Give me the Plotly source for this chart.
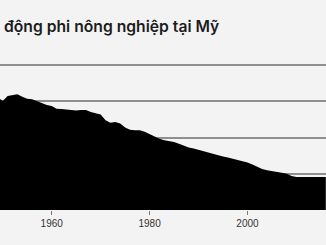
import plotly.graph_objects as go

years = list(range(1949, 2017))
values = [
    31.1, 30.1, 31.5, 31.7, 32.0, 31.3, 30.7, 30.6, 30.1, 29.4,  # 1949-1958
    29.0, 28.7, 28.0, 27.9, 27.8, 27.5, 27.5, 27.6, 27.6, 27.1,  # 1959-1968
    26.8, 26.35, 24.8, 24.1, 24.3, 23.9, 22.8, 22.2, 22.05, 22.05,  # 1969-1978
    21.6, 21.0, 20.25, 19.7, 19.3, 19.05, 18.8, 18.3, 17.75, 17.3,  # 1979-1988
    16.98, 16.6, 16.1, 15.75, 15.3, 15.0, 14.75, 14.5, 14.2, 13.9,  # 1989-1998
    13.6, 13.1, 12.6, 12.0, 11.3, 11.0, 10.8, 10.7, 10.3, 10.0,  # 1999-2008
    9.4, 9.1, 9.1, 9.1, 9.1, 9.1, 9.1, 9.1,  # 2009-2016
]
x_ticks = [1960, 1980, 2000]
x_tick_labels = ["1960", "1980", "2000"]
y_grid = [10, 20, 30, 40]
title_text = "động phi nông nghiệp tại Mỹ"

fig = go.Figure()
fig.add_trace(go.Scatter(
    x=years, y=values, mode="lines", fill="tozeroy",
    line=dict(width=0, color="#000000"), fillcolor="#000000",
    hoverinfo="skip", showlegend=False,
))

fig.update_layout(
    width=326, height=245,
    margin=dict(l=0, r=0, t=50, b=35),
    paper_bgcolor="#f3f3f3", plot_bgcolor="#f3f3f3",
    xaxis=dict(
        range=[1949.44, 2016.04], tickvals=x_ticks, ticktext=x_tick_labels,
        showgrid=False, zeroline=False, showline=False,
        ticks="outside", ticklen=4, tickwidth=1, tickcolor="#7a7a7a",
        tickfont=dict(family="Liberation Sans, Arial, sans-serif", size=10, color="#333333"),
    ),
    yaxis=dict(
        range=[0, 44.2], tickvals=y_grid, showticklabels=False,
        showgrid=True, gridcolor="#8f8f8f", gridwidth=1.5,
        zeroline=False, showline=False, ticks="",
    ),
    annotations=[dict(
        text=title_text, xref="paper", yref="paper", x=0, y=1.144,
        xanchor="left", yanchor="middle", xshift=2, showarrow=False,
        font=dict(family="Inter, Noto Sans, sans-serif", size=15.7, color="#1c1c1c", weight=600),
    )],
)

fig.write_html("out.html")
